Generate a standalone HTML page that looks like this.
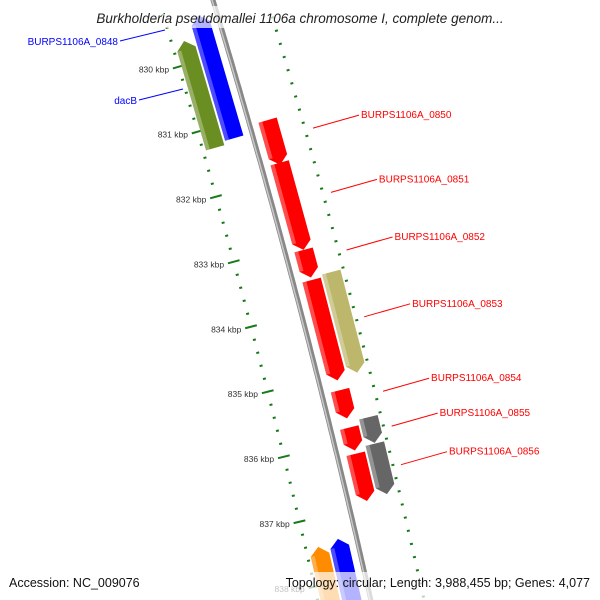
<!DOCTYPE html>
<html><head><meta charset="utf-8"><style>
html,body{margin:0;padding:0;background:#fff;overflow:hidden;}
svg{display:block;font-family:"Liberation Sans","DejaVu Sans",sans-serif;}
</style></head><body>
<svg id="chart" width="600" height="600" viewBox="0 0 600 600" xmlns="http://www.w3.org/2000/svg">
<g id="ticks"></g>
<path id="backbone" fill="none" stroke="#888" stroke-width="5"/>
<path id="backbone-hl" fill="none" stroke="#c8c8c8" stroke-width="1.5"/>
<g id="genes"></g>
<g id="labels"></g>
<rect x="62" y="6" width="476" height="22" fill="#fff" fill-opacity="0.7"/>
<text x="300" y="23" text-anchor="middle" font-size="13.5" font-style="italic" fill="#222">Burkholderia pseudomallei 1106a chromosome I, complete genom...</text>
<rect x="0" y="572" width="600" height="28" fill="#fff" fill-opacity="0.7"/>
<text x="9" y="587" font-size="12.5" fill="#111">Accession: NC_009076</text>
<text x="590" y="587" text-anchor="end" font-size="12.5" fill="#111">Topology: circular; Length: 3,988,455 bp; Genes: 4,077</text>
</svg>
<script>
// data
const geneNames = ["BURPS1106A_0848","dacB","BURPS1106A_0850","BURPS1106A_0851","BURPS1106A_0852","BURPS1106A_0853","khaki-gene","BURPS1106A_0854","BURPS1106A_0855","BURPS1106A_0856","grey-gene-1","grey-gene-2","orange-gene","blue-gene-2"];
const geneStarts = [829.36,829.66,831.12,831.77,833.10,833.56,833.52,835.24,835.81,836.21,835.73,836.13,837.43,837.38];
const geneEnds   = [831.24,831.30,831.80,833.10,833.52,835.09,835.05,835.67,836.16,836.93,836.12,836.90,838.50,838.50];
const geneStrand = [-1,-1,1,1,1,1,1,1,1,1,1,1,-1,-1];
const geneTrack  = [1,2,1,1,1,1,2,1,1,1,2,2,2,1];
const geneColors = ["#0000ff","#6b8e23","#ff0000","#ff0000","#ff0000","#ff0000","#bdb76b","#ff0000","#ff0000","#ff0000","#666666","#666666","#ff8c00","#0000ff"];
const tickLabels = ["830 kbp","831 kbp","832 kbp","833 kbp","834 kbp","835 kbp","836 kbp","837 kbp","838 kbp"];
const tickValues = [830,831,832,833,834,835,836,837,838];
const labelTexts = ["BURPS1106A_0850","BURPS1106A_0851","BURPS1106A_0852","BURPS1106A_0853","BURPS1106A_0854","BURPS1106A_0855","BURPS1106A_0856"];

const NS="http://www.w3.org/2000/svg";
const Y0=52, PX=65.4;
function yOf(k){return Y0+(k-830)*PX;}
function xc(y){return 213+0.302*y-0.000065*y*y;}
function slope(y){return 0.302-0.00013*y;}
function P(y,off){const th=Math.atan(slope(y));return [xc(y)+off*Math.cos(th), y-off*Math.sin(th)];}
function ang(y){return -Math.atan(slope(y))*180/Math.PI;}
function mk(tag,attrs,parent){const e=document.createElementNS(NS,tag);for(const k in attrs)e.setAttribute(k,attrs[k]);parent.appendChild(e);return e;}

// backbone
let d="",d2="";for(let y=-10;y<=610;y+=5){d+=(y===-10?"M":"L")+xc(y).toFixed(1)+","+y;d2+=(y===-10?"M":"L")+(xc(y)-1).toFixed(1)+","+y;}
document.getElementById("backbone").setAttribute("d",d);
document.getElementById("backbone-hl").setAttribute("d",d2);

// ticks
const tg=document.getElementById("ticks");
for(let k=829;k<=839.01;k+=0.2){
  const y=yOf(k);if(y<-10||y>610)continue;
  const major=Math.abs(k-Math.round(k))<0.01;
  const a=P(y,-52);
  const r=mk("rect",{x:a[0]-(major?6:1.5),y:a[1]-1,width:major?12:3,height:2,fill:"#1a7a1a",transform:`rotate(${ang(y)} ${a[0]} ${a[1]})`},tg);
  
  
  const y2=y+PX*0.5;const half=Math.abs((k+0.5)-Math.round(k+0.5))<0.01;
  const b=P(y2,52);
  const r2=mk("rect",{x:b[0]-(half?6:1.5),y:b[1]-1,width:half?12:3,height:2,fill:"#1a7a1a",transform:`rotate(${ang(y2)} ${b[0]} ${b[1]})`},tg);
  
  
}
tickValues.forEach((v,i)=>{
  const y=yOf(v);const a=P(y,-62);
  const t=mk("text",{x:a[0],y:a[1]+3,"text-anchor":"end","font-size":"8.5",fill:"#333"},tg);
  t.textContent=tickLabels[i];
  
  
});

// genes
const gg=document.getElementById("genes");
geneNames.forEach((n,i)=>{
  const y1=yOf(geneStarts[i]),y2=yOf(geneEnds[i]);
  let o1,o2;
  if(geneStrand[i]>0){o1=geneTrack[i]===1?9:30;o2=o1+19;}else{o2=geneTrack[i]===1?-9:-30;o1=o2-19;}
  const om=(o1+o2)/2, h=8;
  let pts;
  if(geneStrand[i]>0){pts=[P(y1,o1),P(y1,o2),P(y2-h,o2),P(y2,om),P(y2-h,o1)];}
  else{pts=[P(y1+h,o1),P(y1,om),P(y1+h,o2),P(y2,o2),P(y2,o1)];}
  const g=mk("g",{},gg);
  
  
  mk("polygon",{points:pts.map(p=>p.join(",")).join(" "),fill:geneColors[i]},g);
  const ya=y1+(geneStrand[i]<0?h:0), yb=y2-(geneStrand[i]>0?h:0);
  const hl=[P(ya,o1),P(ya,o1+4),P(yb,o1+4),P(yb,o1)];
  mk("polygon",{points:hl.map(p=>p.join(",")).join(" "),fill:"#fff","fill-opacity":"0.3"},g);
});

// labels
const lg=document.getElementById("labels");
const labelIdx=[2,3,4,5,7,8,9];
labelIdx.forEach((gi,j)=>{
  const ym=(yOf(geneStarts[gi])+yOf(geneEnds[gi]))/2;
  const a=P(ym-3,60);
  const tx=a[0]+48, ty=a[1]-13;
  const l=mk("line",{x1:a[0],y1:a[1],x2:tx-2,y2:ty,stroke:"#ff0000","stroke-width":"1"},lg);
  
  
  const t=mk("text",{x:tx,y:ty+3,"font-size":"10",fill:"#ff0000"},lg);
  t.textContent=labelTexts[j];
  
  
});
[["BURPS1106A_0848",0,118,45,165,30],["dacB",1,137,104,183,89]].forEach(r=>{
  const l=mk("line",{x1:r[2]+2,y1:r[3]-4,x2:r[4],y2:r[5],stroke:"#0000ff","stroke-width":"1"},lg);
  
  
  const t=mk("text",{x:r[2],y:r[3],"text-anchor":"end","font-size":"10",fill:"#0000ff"},lg);
  t.textContent=r[0];
  
  
});
</script>
</body></html>
